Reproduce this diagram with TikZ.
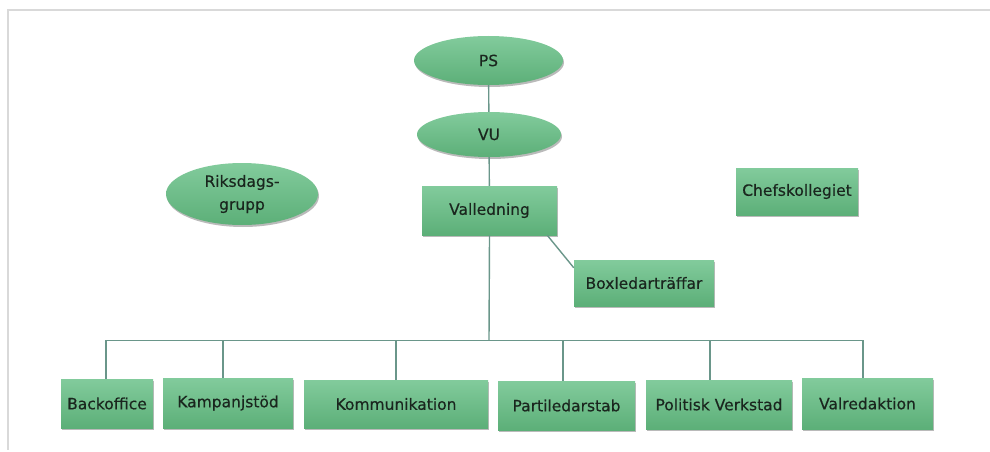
\documentclass[tikz,border=0pt]{standalone}
\usepackage{fontspec}
\setmainfont{DejaVu Sans}
\newfontfamily\heavyfont[FakeBold=0.35]{DejaVu Sans}
\usetikzlibrary{shapes.geometric,shadows}
\definecolor{gtop}{HTML}{82CB9C}
\definecolor{gbot}{HTML}{5CAF78}
\definecolor{linec}{HTML}{6A968A}
\definecolor{txtc}{HTML}{1A261E}
\definecolor{framec}{HTML}{D9D9D9}
\tikzset{
  orgbox/.style={rectangle, top color=gtop, bottom color=gbot, draw=none,
    inner sep=0pt, text=txtc, font=\heavyfont\fontsize{15.5}{23}\selectfont, align=center,
    drop shadow={shadow xshift=1pt, shadow yshift=-2pt, opacity=0.45, fill=black!60}},
  orgell/.style={orgbox, ellipse},
  conn/.style={draw=linec, line width=1.4pt},
}
\begin{document}
\begin{tikzpicture}[x=1pt,y=-1pt]
\useasboundingbox (0,0) rectangle (990,452);
\draw[framec, line width=2pt] (990,10) -- (8,10) -- (8,450);

\node[orgell, minimum width=149pt, minimum height=49pt] (ps) at (488.5,60.5) {PS};
\node[orgell, minimum width=144pt, minimum height=45pt] (vu) at (489,134.5) {VU};
\node[orgbox, minimum width=135pt, minimum height=49pt] (vl) at (489.5,210.5) {Valledning};
\node[orgbox, minimum width=140pt, minimum height=46pt] (bx) at (644,283) {Boxledarträffar};
\node[orgbox, minimum width=122pt, minimum height=47pt] (cf) at (797,191.5) {Chefskollegiet};
\node[orgell, minimum width=152pt, minimum height=62pt] (rg) at (242,194) {Riksdags-\\grupp};

\node[orgbox, minimum width=92pt, minimum height=49pt] (bo) at (107,403.5) {Backoffice};
\node[orgbox, minimum width=130pt, minimum height=50pt] (ks) at (228,403) {Kampanjstöd};
\node[orgbox, minimum width=184pt, minimum height=48pt] (ko) at (396,404) {Kommunikation};
\node[orgbox, minimum width=137pt, minimum height=49pt] (pl) at (566.5,405.5) {Partiledarstab};
\node[orgbox, minimum width=146pt, minimum height=49pt] (pv) at (719,404.5) {Politisk Verkstad};
\node[orgbox, minimum width=131pt, minimum height=51pt] (vr) at (867.5,403.5) {Valredaktion};

\coordinate (bus) at (489,340.5);

\draw[conn] (ps) -- (vu);
\draw[conn] (vu) -- (vl);
\draw[conn] (vl.south) -- (bus);
\draw[conn] ([xshift=-10pt]vl.south east) -- ([yshift=-8pt]bx.north west);
\draw[conn] (bus) -| ([xshift=-1pt]bo.north);
\draw[conn] (bus) -| ([xshift=-5pt]ks.north);
\draw[conn] (bus) -| (ko.north);
\draw[conn] (bus) -| ([xshift=-3.5pt]pl.north);
\draw[conn] (bus) -| ([xshift=-9pt]pv.north);
\draw[conn] (bus) -| ([xshift=-4.5pt]vr.north);
\end{tikzpicture}
\end{document}
